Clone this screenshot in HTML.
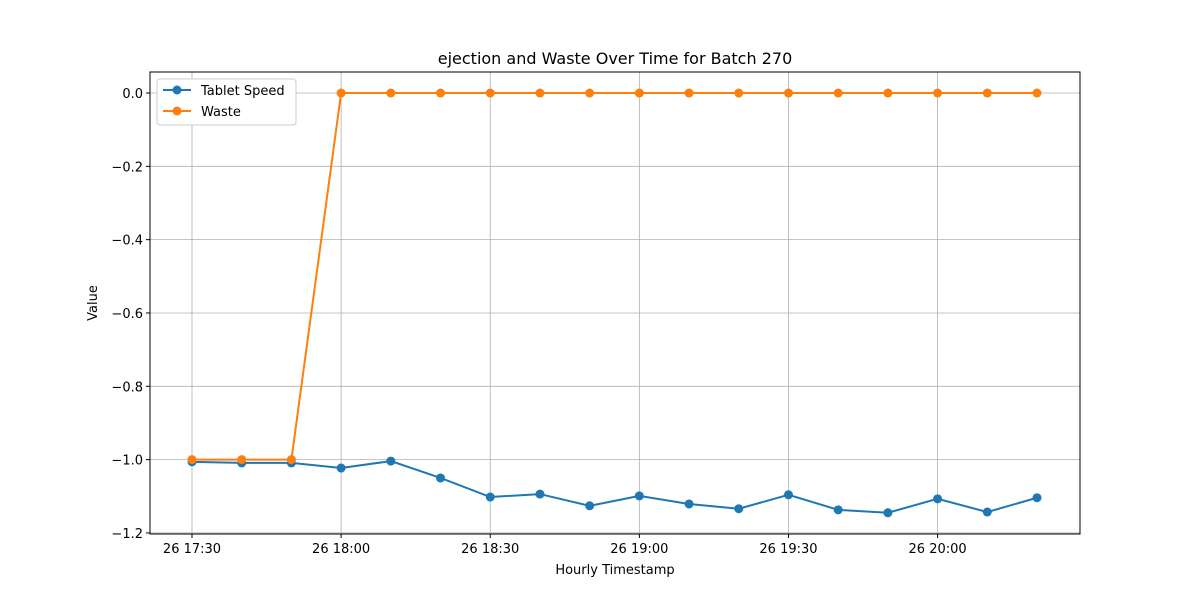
<!DOCTYPE html>
<html><head><meta charset="utf-8"><style>
body{margin:0;background:#fff;font-family:"Liberation Sans","DejaVu Sans",sans-serif}
svg text{font-family:"DejaVu Sans","Liberation Sans",sans-serif;fill:#000}
</style></head><body>
<svg id="chart" width="1200" height="600">
<text x="615" y="64" font-size="16" text-anchor="middle">ejection and Waste Over Time for Batch 270</text>
<g id="grid"></g><g id="axes"></g><g id="series"></g>
<text x="615" y="574" font-size="13" text-anchor="middle">Hourly Timestamp</text>
<text transform="translate(97,303) rotate(-90)" font-size="13" text-anchor="middle">Value</text>
<g>
<rect x="157" y="79" width="139" height="46" fill="#fff" stroke="#ccc" rx="3"/>
<line x1="163" y1="90" x2="191" y2="90" stroke="#1f77b4" stroke-width="2"/><circle cx="177" cy="90" r="4.5" fill="#1f77b4"/>
<text x="201" y="95" font-size="13">Tablet Speed</text>
<line x1="163" y1="111" x2="191" y2="111" stroke="#ff7f0e" stroke-width="2"/><circle cx="177" cy="111" r="4.5" fill="#ff7f0e"/>
<text x="201" y="116" font-size="13">Waste</text>
</g>
</svg>
<script>
const times=["17:30","17:40","17:50","18:00","18:10","18:20","18:30","18:40","18:50","19:00","19:10","19:20","19:30","19:40","19:50","20:00","20:10","20:20"];
const speed=[-1.006,-1.009,-1.009,-1.023,-1.004,-1.050,-1.102,-1.094,-1.126,-1.099,-1.121,-1.134,-1.096,-1.137,-1.145,-1.107,-1.143,-1.104];
const waste=[-1,-1,-1,0,0,0,0,0,0,0,0,0,0,0,0,0,0,0];
const yTicks=[0.0,-0.2,-0.4,-0.6,-0.8,-1.0,-1.2];
const xTickLabels=["26 17:30","26 18:00","26 18:30","26 19:00","26 19:30","26 20:00"];
const xTickIdx=[0,3,6,9,12,15];
const NS="http://www.w3.org/2000/svg";
const L=150,R=1080,T=72,B=534;
const yMin=-1.2029,yMax=0.0573;
const xs=i=>192+i*(1037-192)/(times.length-1);
const ys=v=>B-(v-yMin)/(yMax-yMin)*(B-T);
function mk(t,a,p){const e=document.createElementNS(NS,t);for(const k in a)e.setAttribute(k,a[k]);p.appendChild(e);return e;}
const g=document.getElementById('grid'),ax=document.getElementById('axes'),s=document.getElementById('series');
yTicks.forEach(v=>{const y=ys(v);
 const l=mk('line',{x1:L,x2:R,y1:y,y2:y,stroke:'#b0b0b0','stroke-width':0.8},g);
 
 
 mk('line',{x1:L-4,x2:L,y1:y,y2:y,stroke:'#000'},ax);
 const t=mk('text',{x:L-7,y:y+5,'font-size':13,'text-anchor':'end'},ax);t.textContent=(v===0?'0.0':v.toFixed(1).replace('-','\u2212'));
 
 });
xTickIdx.forEach((i,k)=>{const x=xs(i);
 const l=mk('line',{x1:x,x2:x,y1:T,y2:B,stroke:'#b0b0b0','stroke-width':0.8},g);
 
 
 mk('line',{x1:x,x2:x,y1:B,y2:B+4,stroke:'#000'},ax);
 const t=mk('text',{x:x,y:B+19,'font-size':13,'text-anchor':'middle'},ax);t.textContent=xTickLabels[k];
 
 });
const fr=mk('rect',{x:L,y:T,width:R-L,height:B-T,fill:'none',stroke:'#000','stroke-width':1},ax);


function series(vals,color,name){
 const p=mk('polyline',{points:vals.map((v,i)=>xs(i)+','+ys(v)).join(' '),fill:'none',stroke:color,'stroke-width':2},s);
 
 
 vals.forEach((v,i)=>{const c=mk('circle',{cx:xs(i),cy:ys(v),r:4.5,fill:color},s);
  
  });
}
series(speed,'#1f77b4','tablet-speed');
series(waste,'#ff7f0e','waste');
</script>
</body></html>
